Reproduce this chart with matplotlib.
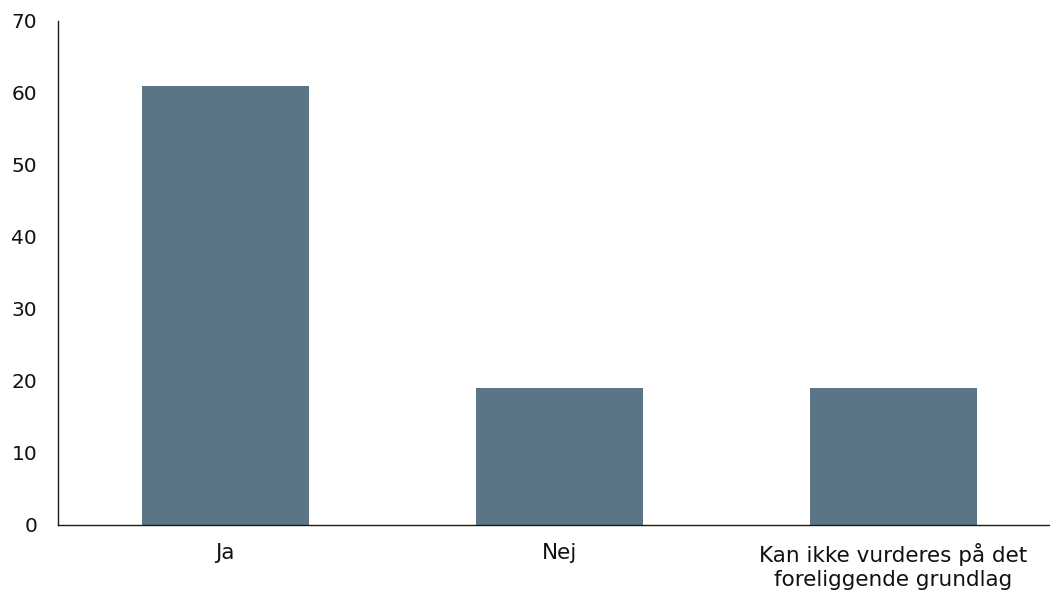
import matplotlib
matplotlib.use("Agg")
import matplotlib.pyplot as plt

categories = ["Ja", "Nej", "Kan ikke vurderes på det\nforeliggende grundlag"]
values = [61, 19, 19]
yticks = [0, 10, 20, 30, 40, 50, 60, 70]

bar_color = "#5B7586"
axis_color = "#1F1A0F"

fig = plt.figure(figsize=(10.5, 5.94), dpi=100)
ax = fig.add_axes([58/1050, 1 - 525/594, (1050-58)/1050, (525-21)/594])

x = list(range(len(categories)))
ax.bar(x, values, width=0.5, color=bar_color)

ax.set_ylim(0, 70)
ax.set_xlim(-0.5, -0.5 + (1050-58)/334)
ax.set_yticks(yticks)
ax.set_yticklabels([str(t) for t in yticks])
ax.set_xticks(x)
ax.set_xticklabels(categories)

for s in ["top", "right"]:
    ax.spines[s].set_visible(False)
for s in ["left", "bottom"]:
    ax.spines[s].set_color(axis_color)
    ax.spines[s].set_linewidth(1.0)

ax.tick_params(axis="both", length=0, colors="#111111")
ax.tick_params(axis="y", pad=15, labelsize=14.5)
ax.tick_params(axis="x", pad=13, labelsize=15.5)
for lbl in ax.get_xticklabels():
    lbl.set_linespacing(1.25)

fig.savefig("out.png", dpi=100)
